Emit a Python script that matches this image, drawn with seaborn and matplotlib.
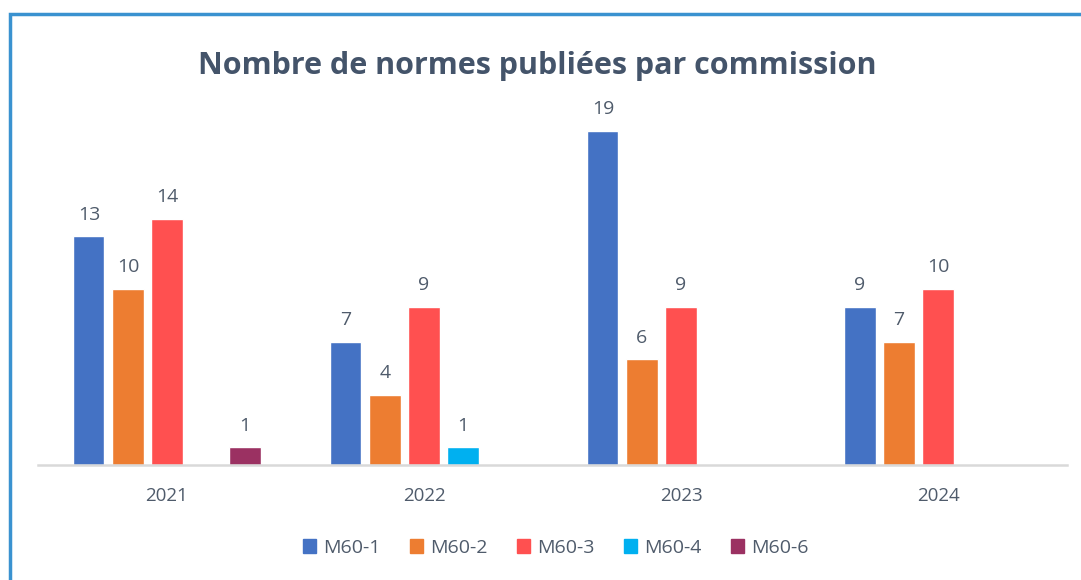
import matplotlib
matplotlib.use('Agg')
import matplotlib.pyplot as plt
from matplotlib.patches import Rectangle
import seaborn as sns
import pandas as pd

# données
annees = ['2021', '2022', '2023', '2024']
commissions = ['M60-1', 'M60-2', 'M60-3', 'M60-4', 'M60-6']
valeurs = {
    'M60-1': [13, 7, 19, 9],
    'M60-2': [10, 4, 6, 7],
    'M60-3': [14, 9, 9, 10],
    'M60-4': [0, 1, 0, 0],
    'M60-6': [1, 0, 0, 0],
}
couleurs = ['#4472C4', '#ED7D31', '#FF5050', '#00B0F0', '#9B3162']

rows = []
for c in commissions:
    for a, v in zip(annees, valeurs[c]):
        rows.append({'annee': a, 'commission': c, 'n': v})
df = pd.DataFrame(rows)

sns.set_theme(style='white')
plt.rcParams['font.family'] = ['Open Sans', 'DejaVu Sans']
txt = '#4F5B6B'

fig = plt.figure(figsize=(10.81, 5.80), dpi=100)
ax = fig.add_axes([0.0356, 0.1983, 0.951, 0.607])

sns.barplot(data=df, x='annee', y='n', hue='commission', order=annees,
            hue_order=commissions, palette=couleurs, width=0.76, gap=0.2,
            saturation=1, ax=ax, legend=True)

for cont in ax.containers:
    labels = [str(int(b.get_height())) if b.get_height() > 0 else '' for b in cont]
    ax.bar_label(cont, labels=labels, padding=9, fontsize=14, color=txt)

ax.set_ylim(0, 20)
ax.set_xlim(-0.5, 3.5)
ax.set_xlabel('')
ax.set_ylabel('')
ax.set_yticks([])
ax.tick_params(axis='x', length=0, labelsize=13.5, labelcolor=txt, pad=16)
for s in ['top', 'right', 'left']:
    ax.spines[s].set_visible(False)
ax.spines['bottom'].set_color('#D9D9D9')
ax.spines['bottom'].set_linewidth(1.8)

ax.legend_.remove()
handles = [Rectangle((0, 0), 1, 1, color=c) for c in couleurs]
fig.legend(handles, commissions, loc='center', bbox_to_anchor=(0.514, 0.055),
           ncol=5, frameon=False, fontsize=14, labelcolor=txt,
           handlelength=0.7, handleheight=0.7, handletextpad=0.35,
           columnspacing=1.5)

fig.text(0.497, 0.887, 'Nombre de normes publiées par commission',
         ha='center', va='center', fontsize=22, fontweight='bold', color='#44546A')

# cadre bleu (coupé à droite et en bas)
fig.add_artist(Rectangle((10 / 1081, -0.1), 1.2, 1 - 14 / 580 + 0.1,
                         transform=fig.transFigure, fill=False,
                         edgecolor='#3A92D0', linewidth=2.5))

fig.savefig('out.png', dpi=100)
